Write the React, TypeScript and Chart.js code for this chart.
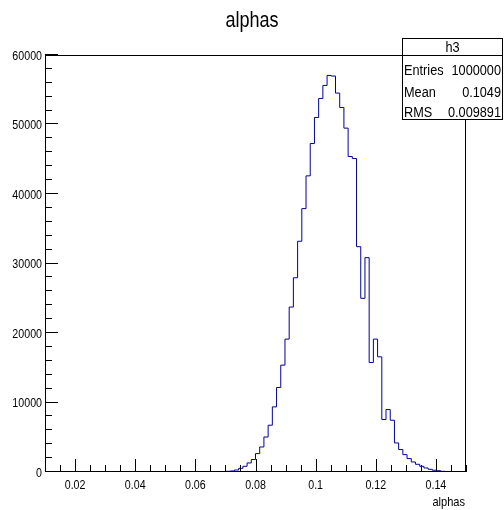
import React, { useEffect, useRef } from "react";
import { Chart, registerables } from "chart.js";

Chart.register(...registerables);

// Histogram definition: 100 bins from 0.01 to 0.15
const xMin = 0.01;
const xMax = 0.15;
const binWidth = 0.0014;
const firstBin = 43; // index of first non-empty bin
// Bin contents for bins 43..95
const counts = [
  100, 150, 290, 530, 820, 1300, 1790, 2650, 3600, 5040,
  6730, 9370, 12160, 15380, 19120, 23730, 27950, 33200, 37900, 42610,
  47260, 51010, 53750, 55620, 57060, 56970, 54520, 52450, 49480, 45390,
  45100, 32420, 24990, 30840, 15760, 19120, 16570, 7550, 8990, 7450,
  4180, 3230, 2500, 1930, 1440, 1110, 820, 580, 390, 250,
  180, 100, 50,
];
const xTickValues = [0.02, 0.04, 0.06, 0.08, 0.1, 0.12, 0.14];
const xTickLabels = ["0.02", "0.04", "0.06", "0.08", "0.1", "0.12", "0.14"];
const xMinorStep = 0.005;
const yTickValues = [0, 10000, 20000, 30000, 40000, 50000, 60000];
const yTickLabels = ["0", "10000", "20000", "30000", "40000", "50000", "60000"];
const yMinorStep = 2000;
const yMax = 60000;
const titleText = "alphas";
const xAxisTitle = "alphas";
const statsName = "h3";
const statsLabels = ["Entries", "Mean", "RMS"];
const statsValues = ["1000000", "0.1049", "0.009891"];

const FONT = "'Liberation Sans', Arial, Helvetica, sans-serif";
const SQUEEZE = 0.82; // emulate Helvetica Narrow look

function buildPoints() {
  const pts: { x: number; y: number }[] = [];
  const edge = (i: number) => xMin + binWidth * i;
  pts.push({ x: edge(firstBin), y: 0 });
  counts.forEach((c, k) => pts.push({ x: edge(firstBin + k), y: c }));
  pts.push({ x: edge(firstBin + counts.length), y: 0 });
  return pts;
}

function narrowText(
  ctx: CanvasRenderingContext2D,
  text: string,
  x: number,
  y: number,
  size: number,
  align: CanvasTextAlign,
  baseline: CanvasTextBaseline = "alphabetic"
) {
  ctx.save();
  ctx.font = `${size}px ${FONT}`;
  ctx.textAlign = align;
  ctx.textBaseline = baseline;
  ctx.translate(x, y);
  ctx.scale(SQUEEZE, 1);
  ctx.fillText(text, 0, 0);
  ctx.restore();
}

const rootDecor = {
  id: "rootDecor",
  afterDraw(chart: any) {
    const { ctx, chartArea } = chart;
    const xs = chart.scales.x;
    const ys = chart.scales.y;
    const L = Math.round(chartArea.left);
    const R = Math.round(chartArea.right);
    const T = Math.round(chartArea.top);
    const B = Math.round(chartArea.bottom);
    ctx.save();
    ctx.strokeStyle = "#000";
    ctx.fillStyle = "#000";
    ctx.lineWidth = 1;
    // frame
    ctx.strokeRect(L + 0.5, T + 0.5, R - L - 1, B - T - 1);
    // y ticks
    ctx.beginPath();
    for (let v = 0; v <= yMax + 1e-6; v += yMinorStep) {
      const py = Math.round(ys.getPixelForValue(v)) - 0.5;
      const major = yTickValues.some((t) => Math.abs(t - v) < 1e-6);
      ctx.moveTo(L, py);
      ctx.lineTo(L + (major ? 13 : 7), py);
    }
    // x ticks
    for (let i = 0; ; i++) {
      const v = xMin + i * xMinorStep;
      if (v > xMax + 1e-9) break;
      const px = Math.round(xs.getPixelForValue(v)) + 0.5;
      const major = xTickValues.some((t) => Math.abs(t - v) < 1e-9);
      ctx.moveTo(px, B);
      ctx.lineTo(px, B - (major ? 13 : 7));
    }
    ctx.stroke();

    // tick labels
    yTickValues.forEach((v, i) => {
      narrowText(ctx, yTickLabels[i], L - 3, ys.getPixelForValue(v) + 4.7, 13, "right");
    });
    xTickValues.forEach((v, i) => {
      narrowText(ctx, xTickLabels[i], xs.getPixelForValue(v), 489, 13, "center");
    });

    // title
    narrowText(ctx, titleText, 252, 27, 22, "center");
    // x axis title
    narrowText(ctx, xAxisTitle, 465, 506, 13.5, "right");

    // stats box
    const bx = 402, by = 38, bw = 101, bh = 82;
    ctx.fillStyle = "#fff";
    ctx.fillRect(bx, by, bw, bh);
    ctx.strokeRect(bx + 0.5, by + 0.5, bw - 1, bh - 1);
    ctx.beginPath();
    ctx.moveTo(bx, 55.5);
    ctx.lineTo(bx + bw, 55.5);
    ctx.stroke();
    ctx.fillStyle = "#000";
    narrowText(ctx, statsName, bx + bw / 2, 51.5, 15.5, "center");
    const rows = [75, 96.5, 117];
    statsLabels.forEach((lab, i) => {
      narrowText(ctx, lab, bx + 2, rows[i], 15.5, "left");
      narrowText(ctx, statsValues[i], bx + bw - 2, rows[i], 15.5, "right");
    });
    ctx.restore();
  },
};

export default function App() {
  const ref = useRef<HTMLCanvasElement | null>(null);
  useEffect(() => {
    if (!ref.current) return;
    const chart = new Chart(ref.current, {
      type: "line",
      data: {
        datasets: [
          {
            data: buildPoints(),
            stepped: true,
            borderColor: "#000099",
            borderWidth: 1,
            pointRadius: 0,
            fill: false,
          },
        ],
      },
      options: {
        animation: false,
        responsive: false,
        devicePixelRatio: 1,
        layout: { padding: { top: 55, right: 38, left: 0, bottom: 0 } },
        plugins: {
          legend: { display: false },
          tooltip: { enabled: false },
          title: { display: false },
        },
        scales: {
          x: {
            type: "linear",
            min: xMin,
            max: xMax,
            grid: { display: false },
            border: { display: false },
            afterBuildTicks: (s: any) => {
              s.ticks = xTickValues.map((v) => ({ value: v }));
            },
            afterFit: (s: any) => {
              s.height = 38;
            },
            ticks: { display: false },
          },
          y: {
            type: "linear",
            min: 0,
            max: yMax,
            grid: { display: false },
            border: { display: false },
            afterBuildTicks: (s: any) => {
              s.ticks = yTickValues.map((v) => ({ value: v }));
            },
            afterFit: (s: any) => {
              s.width = 45;
            },
            ticks: { display: false },
          },
        },
      },
      plugins: [rootDecor],
    });
    return () => chart.destroy();
  }, []);
  return (
    <div style={{ position: "absolute", left: 0, top: 0, width: 504, height: 510, background: "#fff" }}>
      <canvas ref={ref} width={504} height={510} />
    </div>
  );
}
